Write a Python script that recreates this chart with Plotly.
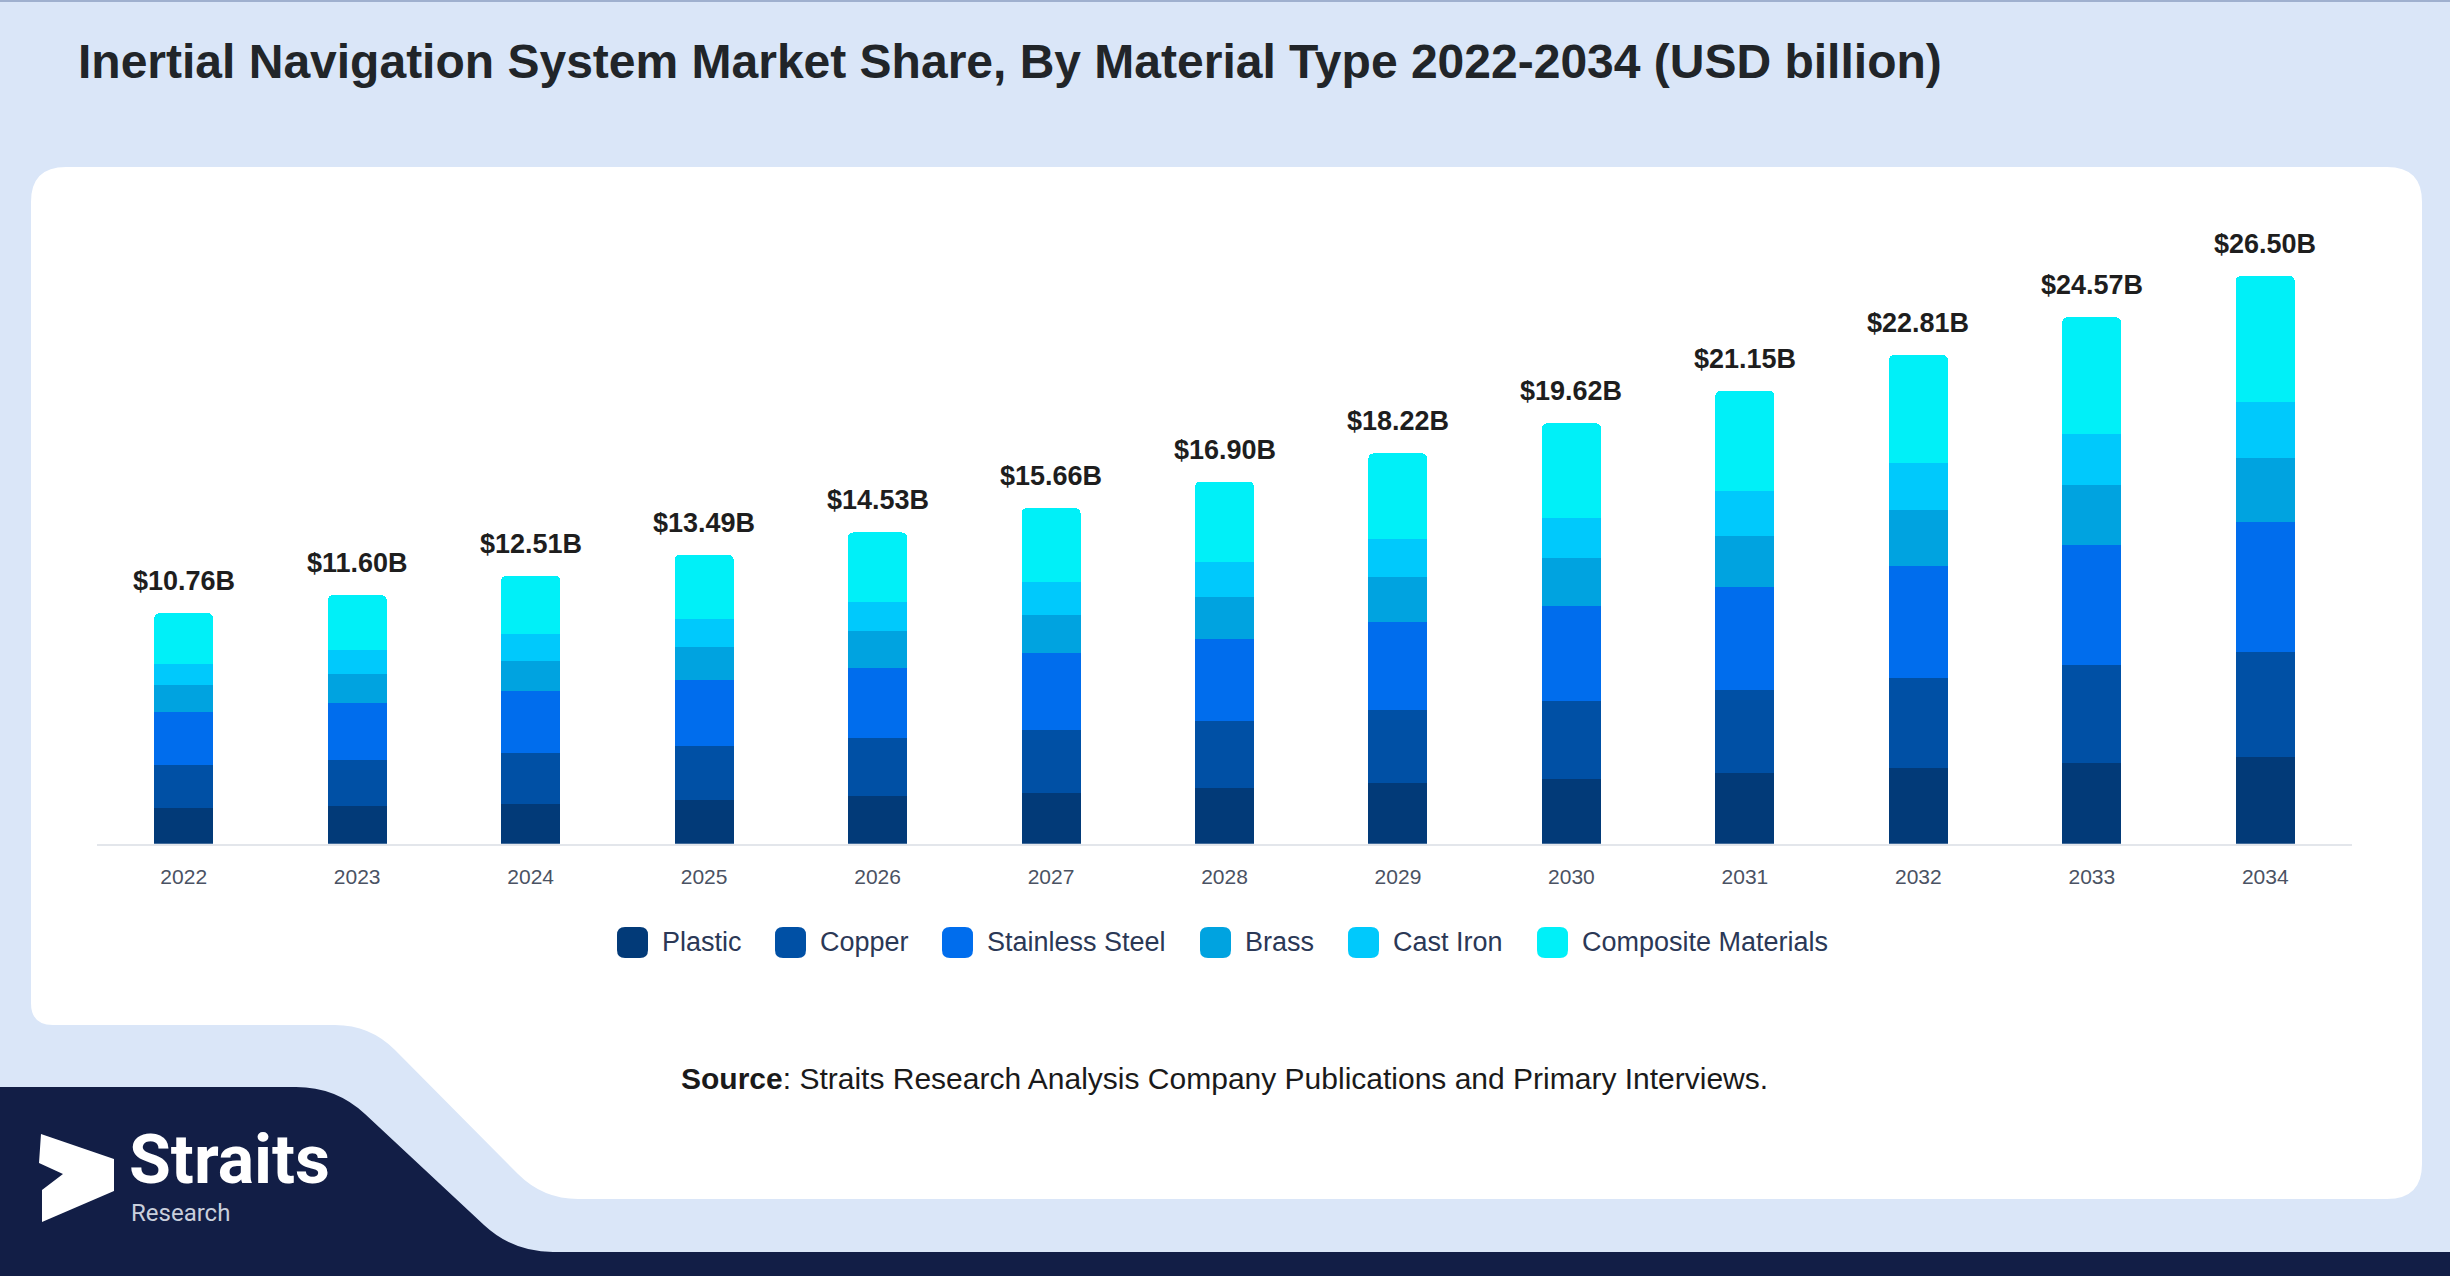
import plotly.graph_objects as go

W, H = 2450, 1276

# market size by material type, USD billion
years = ['2022', '2023', '2024', '2025', '2026', '2027', '2028',
         '2029', '2030', '2031', '2032', '2033', '2034']
plastic = [1.68, 1.78, 1.87, 2.06, 2.21, 2.38, 2.60, 2.83, 3.00, 3.28, 3.53, 3.78, 4.07]
copper = [2.01, 2.14, 2.38, 2.48, 2.74, 2.94, 3.13, 3.39, 3.65, 3.88, 4.20, 4.56, 4.90]
stainless_steel = [2.45, 2.66, 2.86, 3.09, 3.26, 3.57, 3.83, 4.12, 4.45, 4.82, 5.23, 5.61, 6.04]
brass = [1.25, 1.33, 1.41, 1.56, 1.71, 1.79, 1.94, 2.13, 2.23, 2.40, 2.60, 2.78, 2.98]
cast_iron = [1.01, 1.13, 1.25, 1.28, 1.35, 1.52, 1.63, 1.76, 1.89, 2.07, 2.20, 2.38, 2.62]
composite = [2.36, 2.56, 2.74, 3.02, 3.26, 3.46, 3.77, 3.99, 4.40, 4.70, 5.05, 5.46, 5.89]
totals = [10.76, 11.60, 12.51, 13.49, 14.53, 15.66, 16.90, 18.22, 19.62, 21.15, 22.81, 24.57, 26.50]

series = [
    ('Plastic', plastic, '#023a78'),
    ('Copper', copper, '#0050a5'),
    ('Stainless Steel', stainless_steel, '#006ded'),
    ('Brass', brass, '#00a3e0'),
    ('Cast Iron', cast_iron, '#00c9fc'),
    ('Composite Materials', composite, '#00f0f8'),
]

BG = '#dae6f8'
NAVY = '#121e46'
FONT = 'Liberation Sans'


def px(x):
    return x / W


def py(y):
    return 1 - y / H


def path(cmds):
    # cmds: list of (letter, [x, y, x, y ...]) in pixels
    out = []
    for c, pts in cmds:
        if c == 'Z':
            out.append('Z')
            continue
        xy = ['%.5f,%.5f' % (px(pts[i]), py(pts[i + 1])) for i in range(0, len(pts), 2)]
        out.append(c + ' '.join(xy))
    return ' '.join(out)


fig = go.Figure()
for name, vals, col in series:
    fig.add_trace(go.Bar(x=years, y=vals, name=name, marker_color=col,
                         marker_line_width=0, showlegend=False, hoverinfo='skip'))

shapes = []
# white card with cut-out bottom left
shapes.append(dict(type='path', xref='paper', yref='paper', layer='below',
                   fillcolor='white', line_width=0,
                   path=path([('M', [31, 202]), ('Q', [31, 167, 66, 167]), ('L', [2387, 167]),
                              ('Q', [2422, 167, 2422, 202]), ('L', [2422, 1164]),
                              ('Q', [2422, 1199, 2387, 1199]), ('L', [578, 1199]),
                              ('Q', [543, 1199, 518, 1174]), ('L', [395, 1050]),
                              ('Q', [370, 1025, 335, 1025]), ('L', [53, 1025]),
                              ('Q', [31, 1025, 31, 1003]), ('Z', [])])))
# navy footer
shapes.append(dict(type='path', xref='paper', yref='paper', layer='below',
                   fillcolor=NAVY, line_width=0,
                   path=path([('M', [0, 1087]), ('L', [296, 1087]), ('Q', [336, 1087, 365, 1114]),
                              ('L', [484, 1225]), ('Q', [513, 1252, 553, 1252]),
                              ('L', [2450, 1252]), ('L', [2450, 1276]), ('L', [0, 1276]), ('Z', [])])))
# logo mark
shapes.append(dict(type='path', xref='paper', yref='paper', layer='above',
                   fillcolor='white', line_width=0,
                   path=path([('M', [41, 1134]), ('L', [114, 1159]), ('L', [114, 1191]),
                              ('L', [42, 1222]), ('L', [42, 1190]), ('L', [63, 1174]),
                              ('L', [39, 1163]), ('Z', [])])))
# thin top border
shapes.append(dict(type='line', xref='paper', yref='paper', x0=0, x1=1, y0=py(1), y1=py(1),
                   line=dict(color='#9fb0cf', width=2)))

annotations = []
# total labels above each stack (category axis -> index positions)
for i, t in enumerate(totals):
    annotations.append(dict(x=i, y=t, xref='x', yref='y', text='$%.2fB' % t,
                            showarrow=False, yanchor='bottom', yshift=15,
                            font=dict(family=FONT, size=27, color='#1e1e1e', weight='bold')))

# legend drawn by hand so the swatches can be large
legend_x = [617, 775, 942, 1200, 1348, 1537]
ly = 942
for (name, vals, col), lx in zip(series, legend_x):
    r = 8
    shapes.append(dict(type='path', xref='paper', yref='paper', fillcolor=col, line_width=0,
                       path=path([('M', [lx, ly - 15 + r]), ('Q', [lx, ly - 15, lx + r, ly - 15]),
                                  ('L', [lx + 31 - r, ly - 15]), ('Q', [lx + 31, ly - 15, lx + 31, ly - 15 + r]),
                                  ('L', [lx + 31, ly + 16 - r]), ('Q', [lx + 31, ly + 16, lx + 31 - r, ly + 16]),
                                  ('L', [lx + r, ly + 16]), ('Q', [lx, ly + 16, lx, ly + 16 - r]), ('Z', [])])))
    annotations.append(dict(x=px(lx + 43), y=py(ly), xref='paper', yref='paper', text=name,
                            showarrow=False, xanchor='left', yanchor='middle',
                            font=dict(family=FONT, size=27, color='#2b3856')))

annotations.append(dict(x=px(76), y=py(62), xref='paper', yref='paper',
                        text='Inertial Navigation System Market Share, By Material Type 2022-2034 (USD billion)',
                        showarrow=False, xanchor='left', yanchor='middle',
                        font=dict(family=FONT, size=48, color='#212529', weight='bold')))
annotations.append(dict(x=px(1224), y=py(1078), xref='paper', yref='paper',
                        text='<b>Source</b>: Straits Research Analysis Company Publications and Primary Interviews.',
                        showarrow=False, xanchor='center', yanchor='middle',
                        font=dict(family=FONT, size=30, color='#1a1a1a')))
annotations.append(dict(x=px(127), y=py(1202), xref='paper', yref='paper', text='Straits',
                        showarrow=False, xanchor='left', yanchor='bottom',
                        font=dict(family='Roboto', size=68, color='white', weight='bold')))
annotations.append(dict(x=px(129), y=py(1197), xref='paper', yref='paper', text='Research',
                        showarrow=False, xanchor='left', yanchor='top',
                        font=dict(family='Roboto', size=24, color='#c9cfdc')))

fig.update_layout(
    width=W, height=H,
    margin=dict(l=0, r=0, t=0, b=0, autoexpand=False),
    paper_bgcolor=BG,
    plot_bgcolor='rgba(0,0,0,0)',
    barmode='stack',
    bargap=0.66,
    barcornerradius=5,
    shapes=shapes,
    annotations=annotations,
    xaxis=dict(type='category', range=[-0.5, len(years) - 0.5], domain=[px(97), px(2352)],
               showgrid=False, showline=True,
               linecolor='#e3e6eb', linewidth=2, ticks='outside', ticklen=13,
               tickcolor='rgba(0,0,0,0)', fixedrange=True,
               tickfont=dict(family=FONT, size=21, color='#4a5263')),
    yaxis=dict(domain=[py(843.75), py(201)], range=[0, 30], visible=False,
               showgrid=False, fixedrange=True),
    showlegend=False,
)

fig.write_html('out.html', config={'displayModeBar': False},
               post_script="document.body.style.margin='0px';")
